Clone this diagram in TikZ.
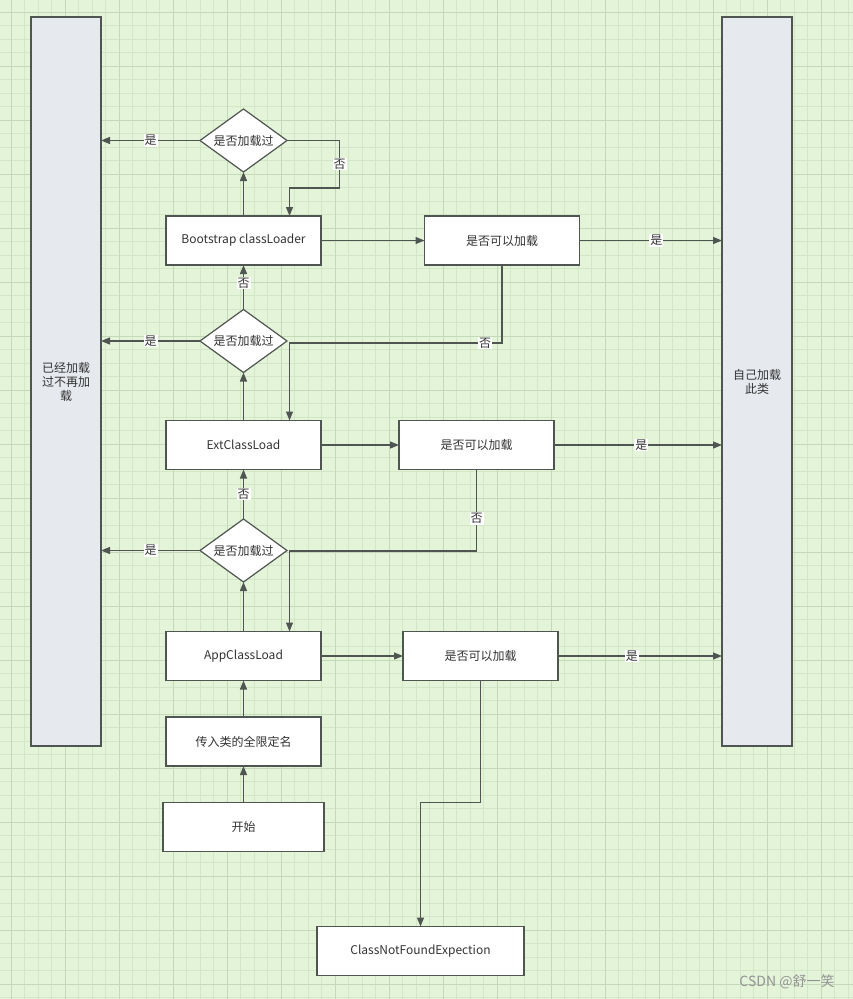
\documentclass[tikz,border=0pt]{standalone}
\usepackage{fontspec}
\setmainfont{Noto Sans CJK SC}
\usetikzlibrary{positioning, calc, arrows.meta, shapes, shapes.geometric}
\definecolor{bggreen}{HTML}{E4F4D9}
\definecolor{minorline}{HTML}{D3E7C6}
\definecolor{majorline}{HTML}{C4D9B8}
\definecolor{linegray}{HTML}{4F5550}
\definecolor{boxgray}{HTML}{E6E9EE}
\definecolor{txtgray}{HTML}{333333}
\tikzset{proc/.style={draw=linegray, fill=white, line width=1.2pt, minimum width=155pt, minimum height=49pt, inner sep=0pt, outer sep=0pt, text=txtgray, font=\fontsize{12}{14}\selectfont}}
\tikzset{check/.style={diamond, aspect=1.4, draw=linegray, fill=white, line width=1.2pt, minimum width=87pt, minimum height=63pt, inner sep=0pt, outer sep=0pt, text=txtgray, font=\fontsize{12}{14}\selectfont}}
\tikzset{bigbox/.style={proc, fill=boxgray, minimum width=70pt, minimum height=729pt, align=center}}
\tikzset{lbl/.style={fill=white, inner sep=1pt, text=txtgray, font=\fontsize{12}{12}\selectfont}}
\tikzset{arr/.style={draw=linegray, line width=1.2pt, -{Triangle[length=9pt, width=7pt]}}}
\tikzset{wmark/.style={text=gray!85, font=\fontsize{14}{14}\selectfont}}

\begin{document}
\begin{tikzpicture}[x=1pt, y=1pt]
	\useasboundingbox (0,0) rectangle (853,-999);
	\fill[bggreen] (0,0) rectangle (853,-999);
	\begin{scope}[shift={(11,-12)}]
		\draw[minorline, line width=0.6pt, step=13.5pt] (-11,12) grid (842,-987);
		\draw[majorline, line width=0.8pt, step=54pt] (-11,12) grid (842,-987);
	\end{scope}

	\node[bigbox] (done) at (66,-381.5) {已经加载\\过不再加\\载};
	\node[bigbox] (self) at (757,-381.5) {自己加载\\此类};

	\node[check] (d1) at (243.5,-140.5) {是否加载过};
	\node[proc] (boot) at (243.5,-240.5) {Bootstrap classLoader};
	\node[check] (d2) at (243.5,-341) {是否加载过};
	\node[proc] (ext) at (243.5,-445) {ExtClassLoad};
	\node[check] (d3) at (243.5,-550.5) {是否加载过};
	\node[proc] (app) at (243.5,-656) {AppClassLoad};
	\node[proc] (name) at (243.5,-741.5) {传入类的全限定名};
	\node[proc, minimum width=161pt] (start) at (243.5,-827) {开始};

	\node[proc, right=103.5pt of boot] (can1) {是否可以加载};
	\node[proc, right=78pt of ext] (can2) {是否可以加载};
	\node[proc, right=82pt of app] (can3) {是否可以加载};
	\node[proc, minimum width=207pt] (cnf) at (420.5,-951) {ClassNotFoundExpection};

	\draw[arr] (start) -- (name);
	\draw[arr] (name) -- (app);
	\draw[arr] (app) -- (d3);
	\draw[arr] (d3) -- node[lbl]{否} (ext);
	\draw[arr] (ext) -- (d2);
	\draw[arr] (d2) -- node[lbl, pos=0.6]{否} (boot);
	\draw[arr] (boot) -- (d1);

	\draw[arr] (d1.west) -- node[lbl]{是} (d1.west -| done.east);
	\draw[arr] (d2.west) -- node[lbl]{是} (d2.west -| done.east);
	\draw[arr] (d3.west) -- node[lbl]{是} (d3.west -| done.east);

	\draw[arr] (d1.east) -| node[lbl, pos=0.75]{否} ($(boot.north)+(96,28)$)
		-- ($(boot.north)+(46,28)$) -- ([xshift=46pt]boot.north);

	\draw[arr] (boot) -- (can1);
	\draw[arr] (ext) -- (can2);
	\draw[arr] (app) -- (can3);

	\draw[arr] (can1.east) -- node[lbl, pos=0.54]{是} (can1.east -| self.west);
	\draw[arr] (can2.east) -- node[lbl, pos=0.52]{是} (can2.east -| self.west);
	\draw[arr] (can3.east) -- node[lbl, pos=0.45]{是} (can3.east -| self.west);

	\draw[arr] (can1.south) -- ++(0,-78) -| node[lbl, pos=0.04]{否} ([xshift=46pt]ext.north);
	\draw[arr] (can2.south) -- node[lbl, pos=0.6]{否} ++(0,-81.5) -| ([xshift=46pt]app.north);
	\draw[arr] (can3.south) -- ++(0,-122) -| (cnf.north);

	\node[wmark] (csdn) at (787,-982) {CSDN @舒一笑};
\end{tikzpicture}
\end{document}
